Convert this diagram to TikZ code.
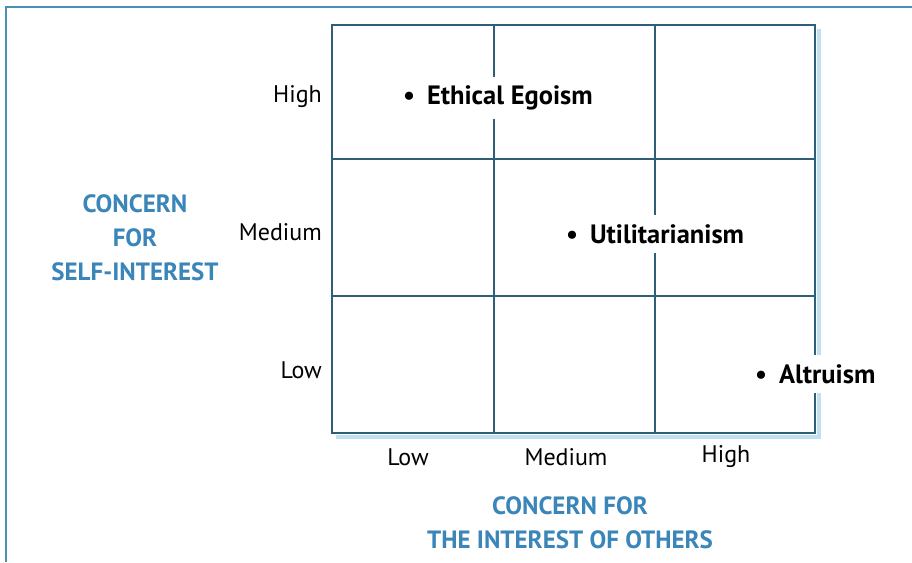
\documentclass[tikz,border=0pt]{standalone}
\usepackage{fontspec}
\setmainfont{PT Sans}
\definecolor{gridc}{HTML}{2F5F78}
\definecolor{shadowc}{HTML}{BFE0F0}
\definecolor{titlec}{HTML}{3A86B8}
\definecolor{framec}{HTML}{4A90B4}
\begin{document}
\begin{tikzpicture}[x=1pt,y=-1pt,
  axislab/.style={font=\fontsize{24}{28}\selectfont, text=black, inner sep=0pt},
  title/.style={font=\fontsize{25}{34}\selectfont\bfseries, text=titlec, align=center, inner sep=0pt},
  item/.style={font=\fontsize{26.5}{30}\selectfont\bfseries, fill=white, inner xsep=5pt, inner ysep=9pt, anchor=west},
  gridline/.style={draw=gridc, line width=1.3pt}]
\useasboundingbox (0,0) rectangle (912,562);
\fill[white] (0,0) rectangle (912,562);
% outer frame
\draw[framec, line width=1.2pt] (6,562) -- (6,7) -- (912,7);
% grid shadow
\draw[shadowc, line width=4pt] (819,29) -- (819,437) -- (336,437);
% grid
\coordinate (tl) at (332,25);
\coordinate (br) at (815,433);
\draw[gridline] (tl) rectangle (br);
\draw[gridline] (494,25) -- (494,433);
\draw[gridline] (655,25) -- (655,433);
\draw[gridline] (332,159) -- (815,159);
\draw[gridline] (332,296) -- (815,296);
% items
\node[item] (ee) at (398,98) {\textbullet\hspace{0.45em}Ethical Egoism};
\node[item] (ut) at (561,234) {\textbullet\hspace{0.45em}Utilitarianism};
\node[item] (al) at (750,374) {\textbullet\hspace{0.45em}Altruism};
% y axis labels
\node[axislab, anchor=east] (yh) at (322,97) {High};
\node[axislab, anchor=east] (ym) at (322,232) {Medium};
\node[axislab, anchor=east] (yl) at (322,370) {Low};
% x axis labels
\node[axislab] (xl) at (408,457) {Low};
\node[axislab] (xm) at (566,457) {Medium};
\node[axislab] (xh) at (726,457) {High};
% titles
\node[title] (ty) at (135,238) {CONCERN\\FOR\\SELF-INTEREST};
\node[title] (tx) at (570,523) {CONCERN FOR\\THE INTEREST OF OTHERS};
\end{tikzpicture}
\end{document}
